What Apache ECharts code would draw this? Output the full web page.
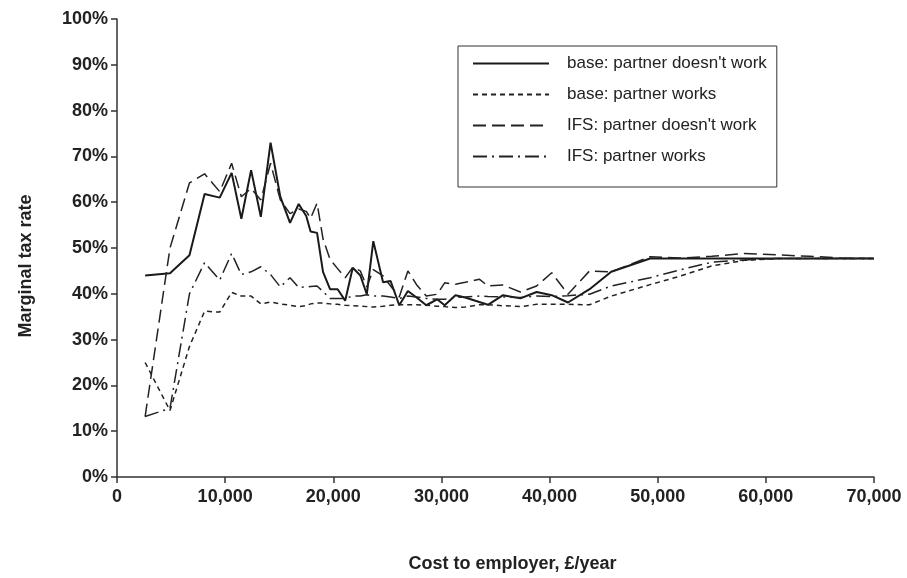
<!DOCTYPE html>
<html>
<head>
<meta charset="utf-8">
<script src="https://cdn.jsdelivr.net/npm/echarts@6/dist/echarts.min.js"></script>
<style>
html,body{margin:0;padding:0;background:#fff;}
#chart{width:907px;height:578px;}
</style>
</head>
<body>
<div id="chart"></div>
<script>
// Cost to employer (£/year)
const costToEmployer = [2600, 4900, 6700, 8100, 9500, 10600, 11500, 12400, 13300, 14200,
  15100, 16000, 16800, 17500, 17900, 18500, 19050, 19700, 20400, 21100,
  21800, 22500, 23100, 23700, 24600, 25300, 26100, 26900, 27700, 28600,
  29600, 30300, 31300, 32200, 33500, 34300, 35700, 37300, 38800, 40200,
  41700, 43700, 45700, 49300, 52000, 55000, 58000, 61000, 64000, 67000, 70000];

// Marginal tax rate (%)
const baseNoWork = [44.0, 44.5, 48.4, 61.8, 61.0, 66.4, 56.4, 67.0, 56.8, 73.0,
  61.2, 55.5, 59.6, 57.0, 53.6, 53.3, 44.8, 41.0, 41.0, 38.5,
  45.7, 44.0, 39.9, 51.5, 42.5, 42.8, 37.5, 40.6, 39.2, 37.5,
  38.8, 37.5, 39.7, 39.2, 38.2, 37.6, 39.7, 39.0, 40.4, 39.7,
  38.1, 41.0, 44.8, 47.7, 47.7, 47.7, 47.7, 47.7, 47.7, 47.7, 47.7];

const baseWorks = [25.0, 14.5, 28.5, 36.2, 36.0, 40.3, 39.5, 39.5, 37.8, 38.2,
  37.8, 37.5, 37.2, 37.4, 37.8, 38.0, 38.0, 37.8, 37.7, 37.5,
  37.4, 37.3, 37.2, 37.1, 37.3, 37.5, 37.6, 37.6, 37.6, 37.5,
  37.3, 37.2, 37.0, 37.1, 37.6, 37.6, 37.4, 37.2, 37.7, 37.7,
  37.7, 37.6, 39.5, 42.0, 43.8, 46.1, 47.3, 47.7, 47.7, 47.7, 47.7];

const ifsNoWork = [13.2, 50.0, 64.2, 66.2, 62.3, 68.5, 61.2, 63.0, 60.5, 68.5,
  60.5, 57.5, 58.5, 58.0, 56.5, 59.8, 52.0, 47.5, 45.5, 43.5,
  45.8, 45.0, 41.5, 45.3, 43.9, 41.7, 39.3, 45.0, 42.0, 39.5,
  39.9, 42.4, 42.1, 42.5, 43.2, 41.7, 41.9, 40.4, 41.7, 44.6,
  39.9, 45.0, 44.8, 48.1, 47.8, 48.2, 48.8, 48.5, 48.2, 47.8, 47.7];

const ifsWorks = [13.2, 15.0, 40.0, 46.8, 43.0, 48.8, 44.2, 44.8, 45.9, 44.2,
  41.5, 43.5, 41.4, 41.5, 41.6, 41.7, 40.5, 39.0, 39.0, 39.0,
  39.5, 39.5, 39.8, 39.5, 39.5, 39.3, 39.0, 39.5, 39.3, 39.0,
  38.8, 38.8, 39.2, 39.3, 39.5, 39.4, 39.3, 39.2, 39.5, 39.4,
  39.6, 39.9, 41.7, 43.5, 45.2, 46.9, 47.4, 47.7, 47.7, 47.7, 47.7];

const seriesNames = ['base: partner doesn\'t work', 'base: partner works',
  'IFS: partner doesn\'t work', 'IFS: partner works'];

const pairs = arr => costToEmployer.map((x, i) => [x, arr[i]]);

const FONT = '"Liberation Sans", Arial, Helvetica, sans-serif';
const chart = echarts.init(document.getElementById('chart'), null, {renderer: 'canvas'});

function lineSeries(name, arr, type, width, color) {
  return {
    name: name, type: 'line', data: pairs(arr), symbol: 'none', showSymbol: false,
    lineStyle: {type: type, width: width, color: color},
    itemStyle: {color: color},
    animation: false
  };
}

chart.setOption({
  backgroundColor: '#ffffff',
  animation: false,
  grid: {left: 117, right: 33, top: 19, bottom: 99, containLabel: false},
  legend: {
    orient: 'vertical', left: 458, top: 46,
    padding: [9, 10, 22, 14],
    borderColor: '#333', borderWidth: 1,
    itemWidth: 76, itemHeight: 14, itemGap: 14,
    itemStyle: {opacity: 0},
    textStyle: {fontFamily: FONT, fontSize: 17, color: '#222', padding: [0, 0, 0, 13], lineHeight: 16},
    data: seriesNames
  },
  xAxis: {
    type: 'value', min: 0, max: 70000, interval: 10000,
    name: 'Cost to employer, £/year', nameLocation: 'middle', nameGap: 78,
    nameTextStyle: {fontFamily: FONT, fontSize: 18, fontWeight: 'bold', color: '#222', padding: [0, 0, 0, 34]},
    axisLine: {lineStyle: {color: '#333', width: 1.5}},
    axisTick: {show: true, length: 6, lineStyle: {color: '#333', width: 1.5}},
    axisLabel: {fontFamily: FONT, fontSize: 18, fontWeight: 'bold', color: '#222', margin: 11},
    splitLine: {show: false}
  },
  yAxis: {
    type: 'value', min: 0, max: 100, interval: 10,
    name: 'Marginal tax rate', nameLocation: 'middle', nameGap: 82,
    nameTextStyle: {fontFamily: FONT, fontSize: 18, fontWeight: 'bold', color: '#222', padding: [0, 36, 0, 0]},
    axisLine: {show: true, lineStyle: {color: '#333', width: 1.5}},
    axisTick: {show: true, length: 6, lineStyle: {color: '#333', width: 1.5}},
    axisLabel: {fontFamily: FONT, fontSize: 18, fontWeight: 'bold', color: '#222', margin: 9,
      formatter: '{value}%'},
    splitLine: {show: false}
  },
  series: [
    lineSeries(seriesNames[0], baseNoWork, 'solid', 2, '#1a1a1a'),
    lineSeries(seriesNames[1], baseWorks, [5, 4], 1.5, '#222'),
    lineSeries(seriesNames[2], ifsNoWork, [13, 6], 1.5, '#222'),
    lineSeries(seriesNames[3], ifsWorks, [14, 5, 2, 5], 1.5, '#222')
  ]
});
</script>
</body>
</html>
